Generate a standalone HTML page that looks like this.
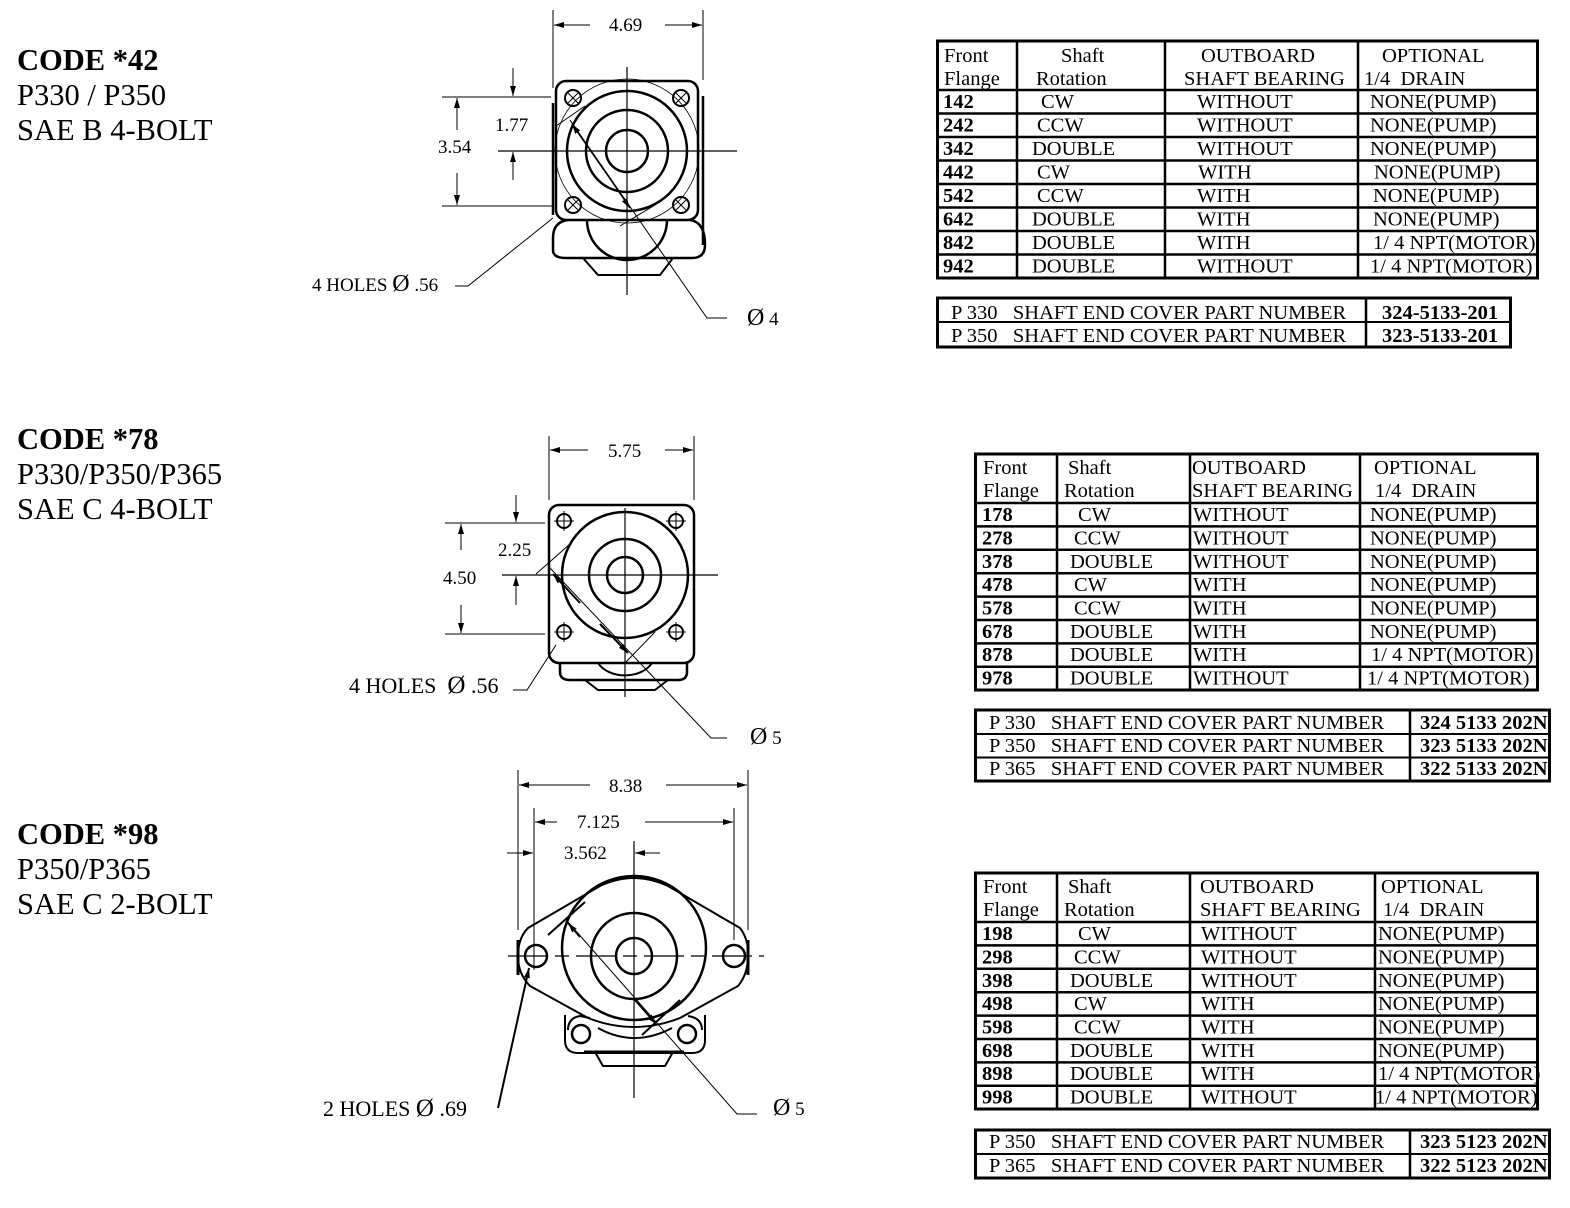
<!DOCTYPE html>
<html><head><meta charset="utf-8"><style>
html,body{margin:0;padding:0;background:#fff;}
svg{display:block;}
text{font-family:"Liberation Serif",serif;fill:#000;white-space:pre;}
.t{font-size:20.5px;}
.b{font-weight:bold;}
.h{font-size:30.5px;}
.d{font-size:19px;}
</style></head><body>
<svg width="1570" height="1208" viewBox="0 0 1570 1208" xmlns="http://www.w3.org/2000/svg" xml:space="preserve">
<defs>
<marker id="ar" viewBox="0 0 10 6" refX="10" refY="3" markerWidth="10" markerHeight="6" orient="auto" markerUnits="userSpaceOnUse">
<path d="M0,0 L10,3 L0,6 Z" fill="#000"/></marker>
</defs>

<text class="h b" x="17" y="70">CODE *42</text>
<text class="h" x="17" y="105">P330 / P350</text>
<text class="h" x="17" y="140">SAE B 4-BOLT</text>
<text class="h b" x="17" y="449">CODE *78</text>
<text class="h" x="17" y="484">P330/P350/P365</text>
<text class="h" x="17" y="519">SAE C 4-BOLT</text>
<text class="h b" x="17" y="844">CODE *98</text>
<text class="h" x="17" y="879">P350/P365</text>
<text class="h" x="17" y="914">SAE C 2-BOLT</text>

<!-- Drawing 1 -->
<g fill="none" stroke="#000">
<line x1="627" y1="67" x2="627" y2="295" stroke-width="1.2"/>
<line x1="498" y1="151" x2="737" y2="151" stroke-width="1.2"/>
<rect x="556" y="81" width="142" height="139" rx="10" stroke-width="2.5"/>
<line x1="553" y1="103" x2="553" y2="215" stroke-width="2.5"/>
<line x1="703" y1="96" x2="703" y2="245" stroke-width="2.5"/>
<circle cx="627" cy="151" r="60" stroke-width="2.5"/>
<circle cx="627" cy="151" r="41" stroke-width="2.5"/>
<circle cx="627" cy="151" r="21" stroke-width="2.5"/>
<circle cx="627" cy="151" r="72" stroke-width="0.8"/>
<g stroke-width="2">
<circle cx="573" cy="98" r="8"/><circle cx="681" cy="98" r="8"/>
<circle cx="573" cy="205" r="8"/><circle cx="681" cy="205" r="8"/>
</g>
<path d="M567,92 l12,12 M579,92 l-12,12 M675,92 l12,12 M687,92 l-12,12 M567,199 l12,12 M579,199 l-12,12 M675,199 l12,12 M687,199 l-12,12" stroke-width="1"/>
<path d="M568,220 Q553,222 553,238 L553,250 Q553,258 566,258 L692,258 Q705,258 705,245 Q705,222 690,220" stroke-width="2.5"/>
<path d="M587,220 A40,40 0 0 0 667,220" stroke-width="2.5"/>
<path d="M583,258 L598,275 L660,275 L673,258" stroke-width="2"/>
<g stroke-width="1">
<line x1="553" y1="10" x2="553" y2="88"/>
<line x1="703" y1="10" x2="703" y2="80"/>
<line x1="590" y1="25" x2="554" y2="25" marker-end="url(#ar)"/>
<line x1="665" y1="25" x2="702" y2="25" marker-end="url(#ar)"/>
<line x1="442" y1="97" x2="551" y2="97"/>
<line x1="442" y1="206" x2="552" y2="206"/>
<line x1="457" y1="130" x2="457" y2="98" marker-end="url(#ar)"/>
<line x1="457" y1="173" x2="457" y2="205" marker-end="url(#ar)"/>
<line x1="513" y1="68" x2="513" y2="96" marker-end="url(#ar)"/>
<line x1="513" y1="180" x2="513" y2="152" marker-end="url(#ar)"/>
<path d="M727,318 L707,318 L570,120"/>
<line x1="604" y1="170" x2="572" y2="124" marker-end="url(#ar)" stroke-width="1.5"/>
<line x1="600" y1="164" x2="630" y2="208" marker-end="url(#ar)" stroke-width="1.5"/>
<line x1="556" y1="126" x2="585" y2="106"/>
<line x1="620" y1="226" x2="655" y2="205"/>
<path d="M455,286 L468,286 L553,218"/>
</g>
</g>
<text class="d" x="609" y="31">4.69</text>
<text class="d" x="438" y="153">3.54</text>
<text class="d" x="495" y="131">1.77</text>
<text class="d" x="312" y="291">4 HOLES <tspan font-size="24">Ø</tspan> .56</text>
<text class="d" x="747" y="325"><tspan font-size="24">Ø</tspan> 4</text>

<!-- Drawing 2 -->
<g fill="none" stroke="#000">
<line x1="625" y1="508" x2="625" y2="697" stroke-width="1.2"/>
<line x1="502" y1="575" x2="718" y2="575" stroke-width="1.2"/>
<rect x="549" y="505" width="145" height="158" rx="10" stroke-width="2.5"/>
<circle cx="625" cy="575" r="63" stroke-width="2.5"/>
<circle cx="625" cy="575" r="36" stroke-width="2.5"/>
<circle cx="625" cy="575" r="18" stroke-width="2.5"/>
<g stroke-width="2">
<circle cx="564" cy="521" r="7"/><circle cx="676" cy="521" r="7"/>
<circle cx="564" cy="632" r="7"/><circle cx="676" cy="632" r="7"/>
</g>
<path d="M554,521 h20 M564,511 v20 M666,521 h20 M676,511 v20 M554,632 h20 M564,622 v20 M666,632 h20 M676,622 v20" stroke-width="1"/>
<path d="M560,663 L560,672 Q560,680 570,680 L678,680 Q687,680 687,672 L687,663" stroke-width="2.5"/>
<path d="M598,663 A30,22 0 0 0 652,663" stroke-width="2"/>
<path d="M585,680 L598,690 L655,690 L668,680" stroke-width="2"/>
<g stroke-width="1">
<line x1="549" y1="436" x2="549" y2="500"/>
<line x1="694" y1="436" x2="694" y2="500"/>
<line x1="588" y1="450" x2="550" y2="450" marker-end="url(#ar)"/>
<line x1="665" y1="450" x2="693" y2="450" marker-end="url(#ar)"/>
<line x1="445" y1="523" x2="545" y2="523"/>
<line x1="445" y1="634" x2="545" y2="634"/>
<line x1="461" y1="550" x2="461" y2="524" marker-end="url(#ar)"/>
<line x1="461" y1="605" x2="461" y2="633" marker-end="url(#ar)"/>
<line x1="516" y1="495" x2="516" y2="522" marker-end="url(#ar)"/>
<line x1="516" y1="605" x2="516" y2="576" marker-end="url(#ar)"/>
<path d="M727,738 L711,738 L550,568"/>
<line x1="580" y1="603" x2="553" y2="574" marker-end="url(#ar)" stroke-width="2"/>
<line x1="600" y1="624" x2="628" y2="653" marker-end="url(#ar)" stroke-width="2"/>
<line x1="536" y1="574" x2="570" y2="544"/>
<line x1="625" y1="663" x2="655" y2="632"/>
<path d="M513,690 L527,690 L556,645"/>
</g>
</g>
<text class="d" x="608" y="457">5.75</text>
<text class="d" x="443" y="584">4.50</text>
<text class="d" x="498" y="556">2.25</text>
<text x="349" y="693" style="font-size:22px">4 HOLES  <tspan font-size="25">Ø</tspan> .56</text>
<text class="d" x="750" y="744"><tspan font-size="24">Ø</tspan> 5</text>

<!-- Drawing 3 -->
<g fill="none" stroke="#000">
<line x1="634" y1="841" x2="634" y2="1098" stroke-width="1.2"/>
<line x1="508" y1="956" x2="764" y2="956" stroke-width="1.2" stroke-dasharray="40,7,14,7"/>
<path d="M528,928 L600,886 Q634,870 668,886 L740,928 Q749,940 748,956 Q748,974 738,986 L680,1018 Q634,1036 588,1018 L530,986 Q518,974 518,956 Q518,938 528,928 Z" stroke-width="2"/>
<line x1="518" y1="940" x2="518" y2="975" stroke-width="3"/>
<line x1="748" y1="940" x2="748" y2="975" stroke-width="3"/>
<circle cx="634" cy="948" r="72" stroke-width="2.5"/>
<circle cx="634" cy="956" r="43" stroke-width="2.5"/>
<circle cx="634" cy="956" r="18" stroke-width="2.5"/>
<circle cx="536" cy="956" r="11" stroke-width="2.5"/>
<circle cx="734" cy="956" r="11" stroke-width="2.5"/>
<path d="M565,1015 L565,1040 Q565,1053 578,1053 L692,1053 Q705,1053 705,1040 L705,1015" stroke-width="2"/>
<path d="M568,1030 Q568,1018 580,1016 L590,1018 M688,1016 Q702,1018 702,1030" stroke-width="2"/>
<circle cx="581" cy="1034" r="9" stroke-width="2.5"/>
<circle cx="687" cy="1034" r="9" stroke-width="2.5"/>
<path d="M598,1028 Q634,1048 672,1028" stroke-width="2"/>
<line x1="584" y1="1052" x2="684" y2="1052" stroke-width="3"/>
<path d="M595,1052 L603,1066 L665,1066 L673,1052" stroke-width="2"/>
<g stroke-width="1">
<line x1="518" y1="770" x2="518" y2="930"/>
<line x1="748" y1="770" x2="748" y2="930"/>
<line x1="590" y1="785" x2="519" y2="785" marker-end="url(#ar)"/>
<line x1="666" y1="785" x2="747" y2="785" marker-end="url(#ar)"/>
<line x1="534" y1="808" x2="534" y2="970"/>
<line x1="734" y1="808" x2="734" y2="940"/>
<line x1="557" y1="822" x2="535" y2="822" marker-end="url(#ar)"/>
<line x1="645" y1="822" x2="733" y2="822" marker-end="url(#ar)"/>
<line x1="507" y1="853" x2="533" y2="853" marker-end="url(#ar)"/>
<line x1="660" y1="853" x2="635" y2="853" marker-end="url(#ar)"/>
<path d="M757,1114 L737,1114 L568,922"/>
<line x1="580" y1="937" x2="568" y2="923" marker-end="url(#ar)" stroke-width="1.8"/>
<line x1="635" y1="1000" x2="656" y2="1024" marker-end="url(#ar)" stroke-width="1.8"/>
<line x1="548" y1="935" x2="585" y2="902" stroke-width="2"/>
<line x1="642" y1="1035" x2="680" y2="1000" stroke-width="2"/>
</g>
<line x1="498" y1="1108" x2="529" y2="968" stroke-width="2" marker-end="url(#ar)"/>
</g>
<text class="d" x="609" y="792">8.38</text>
<text class="d" x="577" y="828">7.125</text>
<text class="d" x="564" y="859">3.562</text>
<text x="323" y="1116" style="font-size:22px">2 HOLES <tspan font-size="25">Ø</tspan> .69</text>
<text class="d" x="773" y="1115"><tspan font-size="24">Ø</tspan> 5</text>

<!-- Table 1 -->
<g fill="none" stroke="#000">
<rect x="937.5" y="41" width="600" height="237" stroke-width="3"/>
<g stroke-width="2.5">
<line x1="1017" y1="41" x2="1017" y2="278"/><line x1="1165" y1="41" x2="1165" y2="278"/><line x1="1358" y1="41" x2="1358" y2="278"/>
<line x1="937" y1="90" x2="1538" y2="90"/><line x1="937" y1="113.5" x2="1538" y2="113.5"/><line x1="937" y1="137" x2="1538" y2="137"/><line x1="937" y1="160.5" x2="1538" y2="160.5"/><line x1="937" y1="184" x2="1538" y2="184"/><line x1="937" y1="207.5" x2="1538" y2="207.5"/><line x1="937" y1="231" x2="1538" y2="231"/><line x1="937" y1="254.5" x2="1538" y2="254.5"/>
</g>
<rect x="937.5" y="298" width="573" height="49" stroke-width="3"/>
<line x1="937" y1="322" x2="1511" y2="322" stroke-width="2"/>
<line x1="1366" y1="298" x2="1366" y2="347" stroke-width="2.5"/>
</g>
<g class="t">
<text x="944" y="62">Front</text><text x="944" y="85">Flange</text>
<text x="1061" y="62">Shaft</text><text x="1036" y="85">Rotation</text>
<text x="1201" y="62">OUTBOARD</text><text x="1184" y="85">SHAFT BEARING</text>
<text x="1382" y="62">OPTIONAL</text><text x="1364" y="85">1/4  DRAIN</text>
<text class="b" x="943" y="108">142</text><text x="1041" y="108">CW</text><text x="1197" y="108">WITHOUT</text><text x="1370" y="108">NONE(PUMP)</text>
<text class="b" x="943" y="131.5">242</text><text x="1037" y="131.5">CCW</text><text x="1197" y="131.5">WITHOUT</text><text x="1370" y="131.5">NONE(PUMP)</text>
<text class="b" x="943" y="155">342</text><text x="1032" y="155">DOUBLE</text><text x="1197" y="155">WITHOUT</text><text x="1370" y="155">NONE(PUMP)</text>
<text class="b" x="943" y="178.5">442</text><text x="1037" y="178.5">CW</text><text x="1198" y="178.5">WITH</text><text x="1374" y="178.5">NONE(PUMP)</text>
<text class="b" x="943" y="202">542</text><text x="1037" y="202">CCW</text><text x="1197" y="202">WITH</text><text x="1373" y="202">NONE(PUMP)</text>
<text class="b" x="943" y="225.5">642</text><text x="1032" y="225.5">DOUBLE</text><text x="1197" y="225.5">WITH</text><text x="1373" y="225.5">NONE(PUMP)</text>
<text class="b" x="943" y="249">842</text><text x="1032" y="249">DOUBLE</text><text x="1197" y="249">WITH</text><text x="1373" y="249">1/ 4 NPT(MOTOR)</text>
<text class="b" x="943" y="272.5">942</text><text x="1032" y="272.5">DOUBLE</text><text x="1197" y="272.5">WITHOUT</text><text x="1370" y="272.5">1/ 4 NPT(MOTOR)</text>
<text x="951" y="319">P 330   SHAFT END COVER PART NUMBER</text><text class="b" x="1382" y="319">324-5133-201</text>
<text x="951" y="342">P 350   SHAFT END COVER PART NUMBER</text><text class="b" x="1382" y="342">323-5133-201</text>
</g>

<!-- Table 2 -->
<g fill="none" stroke="#000">
<rect x="975.5" y="454" width="562" height="236" stroke-width="3"/>
<g stroke-width="2.5">
<line x1="1057" y1="454" x2="1057" y2="690"/><line x1="1190" y1="454" x2="1190" y2="690"/><line x1="1360" y1="454" x2="1360" y2="690"/>
<line x1="975" y1="503" x2="1538" y2="503"/><line x1="975" y1="526.4" x2="1538" y2="526.4"/><line x1="975" y1="549.8" x2="1538" y2="549.8"/><line x1="975" y1="573.2" x2="1538" y2="573.2"/><line x1="975" y1="596.6" x2="1538" y2="596.6"/><line x1="975" y1="620" x2="1538" y2="620"/><line x1="975" y1="643.4" x2="1538" y2="643.4"/><line x1="975" y1="666.8" x2="1538" y2="666.8"/>
</g>
<rect x="975.5" y="710" width="574" height="71" stroke-width="3"/>
<line x1="975" y1="734" x2="1550" y2="734" stroke-width="2"/>
<line x1="975" y1="757.5" x2="1550" y2="757.5" stroke-width="2"/>
<line x1="1410" y1="710" x2="1410" y2="781" stroke-width="2.5"/>
</g>
<g class="t">
<text x="983" y="474">Front</text><text x="983" y="497">Flange</text>
<text x="1068" y="474">Shaft</text><text x="1064" y="497">Rotation</text>
<text x="1192" y="474">OUTBOARD</text><text x="1192" y="497">SHAFT BEARING</text>
<text x="1374" y="474">OPTIONAL</text><text x="1375" y="497">1/4  DRAIN</text>
<text class="b" x="982" y="521">178</text><text x="1078" y="521">CW</text><text x="1193" y="521">WITHOUT</text><text x="1370" y="521">NONE(PUMP)</text>
<text class="b" x="982" y="544.5">278</text><text x="1074" y="544.5">CCW</text><text x="1193" y="544.5">WITHOUT</text><text x="1370" y="544.5">NONE(PUMP)</text>
<text class="b" x="982" y="568">378</text><text x="1070" y="568">DOUBLE</text><text x="1193" y="568">WITHOUT</text><text x="1370" y="568">NONE(PUMP)</text>
<text class="b" x="982" y="591">478</text><text x="1074" y="591">CW</text><text x="1193" y="591">WITH</text><text x="1370" y="591">NONE(PUMP)</text>
<text class="b" x="982" y="614.5">578</text><text x="1074" y="614.5">CCW</text><text x="1193" y="614.5">WITH</text><text x="1370" y="614.5">NONE(PUMP)</text>
<text class="b" x="982" y="638">678</text><text x="1070" y="638">DOUBLE</text><text x="1193" y="638">WITH</text><text x="1370" y="638">NONE(PUMP)</text>
<text class="b" x="982" y="661">878</text><text x="1070" y="661">DOUBLE</text><text x="1193" y="661">WITH</text><text x="1371" y="661">1/ 4 NPT(MOTOR)</text>
<text class="b" x="982" y="684.5">978</text><text x="1070" y="684.5">DOUBLE</text><text x="1193" y="684.5">WITHOUT</text><text x="1367" y="684.5">1/ 4 NPT(MOTOR)</text>
<text x="989" y="729">P 330   SHAFT END COVER PART NUMBER</text><text class="b" x="1420" y="729">324 5133 202N</text>
<text x="989" y="752">P 350   SHAFT END COVER PART NUMBER</text><text class="b" x="1420" y="752">323 5133 202N</text>
<text x="989" y="775">P 365   SHAFT END COVER PART NUMBER</text><text class="b" x="1420" y="775">322 5133 202N</text>
</g>

<!-- Table 3 -->
<g fill="none" stroke="#000">
<rect x="975.5" y="873" width="562" height="236" stroke-width="3"/>
<g stroke-width="2.5">
<line x1="1057" y1="873" x2="1057" y2="1109"/><line x1="1190" y1="873" x2="1190" y2="1109"/><line x1="1375" y1="873" x2="1375" y2="1109"/>
<line x1="975" y1="922" x2="1538" y2="922"/><line x1="975" y1="945.4" x2="1538" y2="945.4"/><line x1="975" y1="968.8" x2="1538" y2="968.8"/><line x1="975" y1="992.2" x2="1538" y2="992.2"/><line x1="975" y1="1015.6" x2="1538" y2="1015.6"/><line x1="975" y1="1039" x2="1538" y2="1039"/><line x1="975" y1="1062.4" x2="1538" y2="1062.4"/><line x1="975" y1="1085.8" x2="1538" y2="1085.8"/>
</g>
<rect x="975.5" y="1130" width="574" height="48" stroke-width="3"/>
<line x1="975" y1="1154" x2="1550" y2="1154" stroke-width="2"/>
<line x1="1410" y1="1130" x2="1410" y2="1178" stroke-width="2.5"/>
</g>
<g class="t">
<text x="983" y="893">Front</text><text x="983" y="916">Flange</text>
<text x="1068" y="893">Shaft</text><text x="1064" y="916">Rotation</text>
<text x="1200" y="893">OUTBOARD</text><text x="1200" y="916">SHAFT BEARING</text>
<text x="1381" y="893">OPTIONAL</text><text x="1383" y="916">1/4  DRAIN</text>
<text class="b" x="982" y="940">198</text><text x="1078" y="940">CW</text><text x="1201" y="940">WITHOUT</text><text x="1378" y="940">NONE(PUMP)</text>
<text class="b" x="982" y="963.5">298</text><text x="1074" y="963.5">CCW</text><text x="1201" y="963.5">WITHOUT</text><text x="1378" y="963.5">NONE(PUMP)</text>
<text class="b" x="982" y="987">398</text><text x="1070" y="987">DOUBLE</text><text x="1201" y="987">WITHOUT</text><text x="1378" y="987">NONE(PUMP)</text>
<text class="b" x="982" y="1010">498</text><text x="1074" y="1010">CW</text><text x="1201" y="1010">WITH</text><text x="1378" y="1010">NONE(PUMP)</text>
<text class="b" x="982" y="1033.5">598</text><text x="1074" y="1033.5">CCW</text><text x="1201" y="1033.5">WITH</text><text x="1378" y="1033.5">NONE(PUMP)</text>
<text class="b" x="982" y="1057">698</text><text x="1070" y="1057">DOUBLE</text><text x="1201" y="1057">WITH</text><text x="1378" y="1057">NONE(PUMP)</text>
<text class="b" x="982" y="1080">898</text><text x="1070" y="1080">DOUBLE</text><text x="1201" y="1080">WITH</text><text x="1378" y="1080">1/ 4 NPT(MOTOR)</text>
<text class="b" x="982" y="1103.5">998</text><text x="1070" y="1103.5">DOUBLE</text><text x="1201" y="1103.5">WITHOUT</text><text x="1375" y="1103.5">1/ 4 NPT(MOTOR)</text>
<text x="989" y="1148">P 350   SHAFT END COVER PART NUMBER</text><text class="b" x="1420" y="1148">323 5123 202N</text>
<text x="989" y="1172">P 365   SHAFT END COVER PART NUMBER</text><text class="b" x="1420" y="1172">322 5123 202N</text>
</g>
</svg>
</body></html>
